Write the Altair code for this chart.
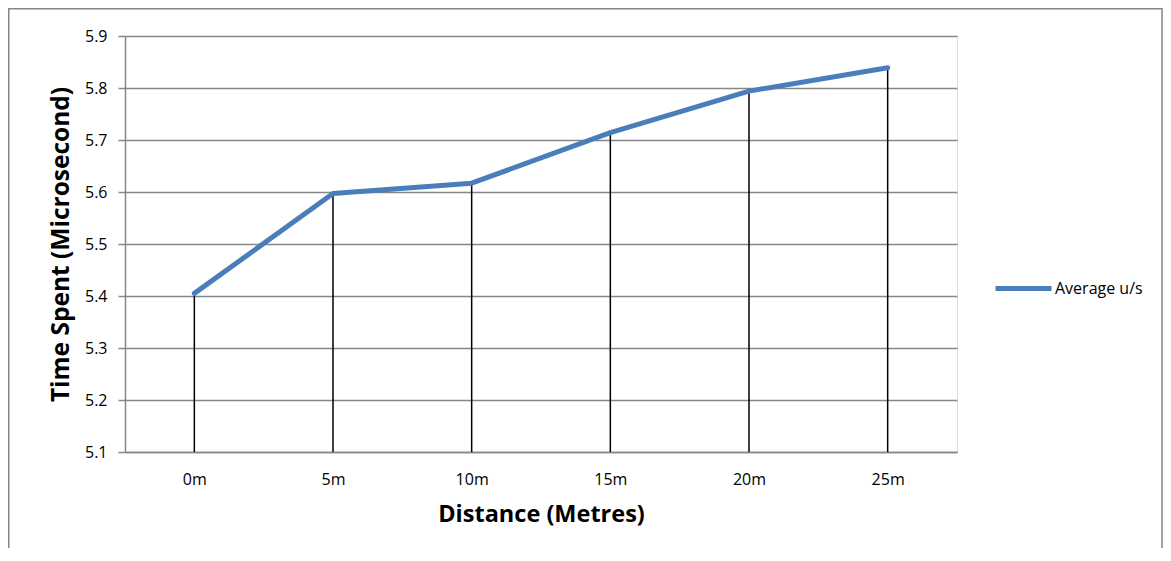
import altair as alt
import pandas as pd

categories = ["0m", "5m", "10m", "15m", "20m", "25m"]
values = [5.405, 5.597, 5.617, 5.714, 5.794, 5.839]
series_name = "Average u/s"
y_ticks = [5.1, 5.2, 5.3, 5.4, 5.5, 5.6, 5.7, 5.8, 5.9]

df = pd.DataFrame({"Distance": categories, "Time": values, "series": [series_name] * len(categories)})

FONT = "Open Sans"
W, H = 832, 416
PL, PT, PR, PB = 117, 28, 206, 96

x_enc = alt.X("Distance:N", sort=categories,
              scale=alt.Scale(type="point", padding=0.5),
              axis=alt.Axis(title="Distance (Metres)", labelAngle=0, ticks=False,
                            domainColor="#868686", domainWidth=1.5,
                            labelFont=FONT, labelFontSize=16, labelColor="#000000",
                            labelPadding=19, titleFont=FONT, titleFontSize=23.5,
                            titleFontWeight="bold", titleColor="#000000", titlePadding=15,
                            grid=False))
y_scale = alt.Scale(domain=[5.1, 5.9], nice=False, zero=False)
y_enc = alt.Y("Time:Q", scale=y_scale,
              axis=alt.Axis(title="Time Spent (Microsecond)", values=y_ticks, format=".1f",
                            grid=True, gridColor="#868686", gridWidth=1.5,
                            domainColor="#868686", domainWidth=1.5,
                            tickColor="#868686", tickSize=7, tickWidth=1.5,
                            labelFont=FONT, labelFontSize=16, labelColor="#000000",
                            labelPadding=11, titleFont=FONT, titleFontSize=24.5,
                            titleFontWeight="bold", titleColor="#000000", titlePadding=11))

base = alt.Chart(df)

drops = base.mark_rule(color="#000000", strokeWidth=1.5).encode(
    x=x_enc,
    y=alt.Y("Time:Q", scale=y_scale),
    y2=alt.datum(5.1),
)

line = base.mark_line(strokeWidth=5, strokeCap="round", strokeJoin="round").encode(
    x=alt.X("Distance:N", sort=categories),
    y=y_enc,
    color=alt.Color("series:N", scale=alt.Scale(range=["#4a7ebb"]),
                    legend=alt.Legend(title=None, orient="none", legendX=868, legendY=222,
                                      symbolType="stroke", symbolSize=3136,
                                      symbolStrokeWidth=5, symbolStrokeColor="#4a7ebb",
                                      labelFont=FONT, labelFontSize=16, labelColor="#000000",
                                      labelOffset=1, padding=0)),
)

frame = alt.Chart(pd.DataFrame({"a": [0]})).mark_rect(
    fill=None, stroke="#868686", strokeWidth=1.5
).encode(
    x=alt.value(-PL + 0.75), x2=alt.value(W + PR - 1),
    y=alt.value(-PT + 0.75), y2=alt.value(H + PB + 20),
)

chart = alt.layer(frame, drops, line).properties(
    width=W, height=H,
    autosize=alt.AutoSizeParams(type="none"),
    padding={"left": PL, "top": PT, "right": PR, "bottom": PB},
).configure_view(stroke=None).configure(background="#ffffff")

chart.save("out.html", embed_options={"renderer": "svg", "actions": False})
